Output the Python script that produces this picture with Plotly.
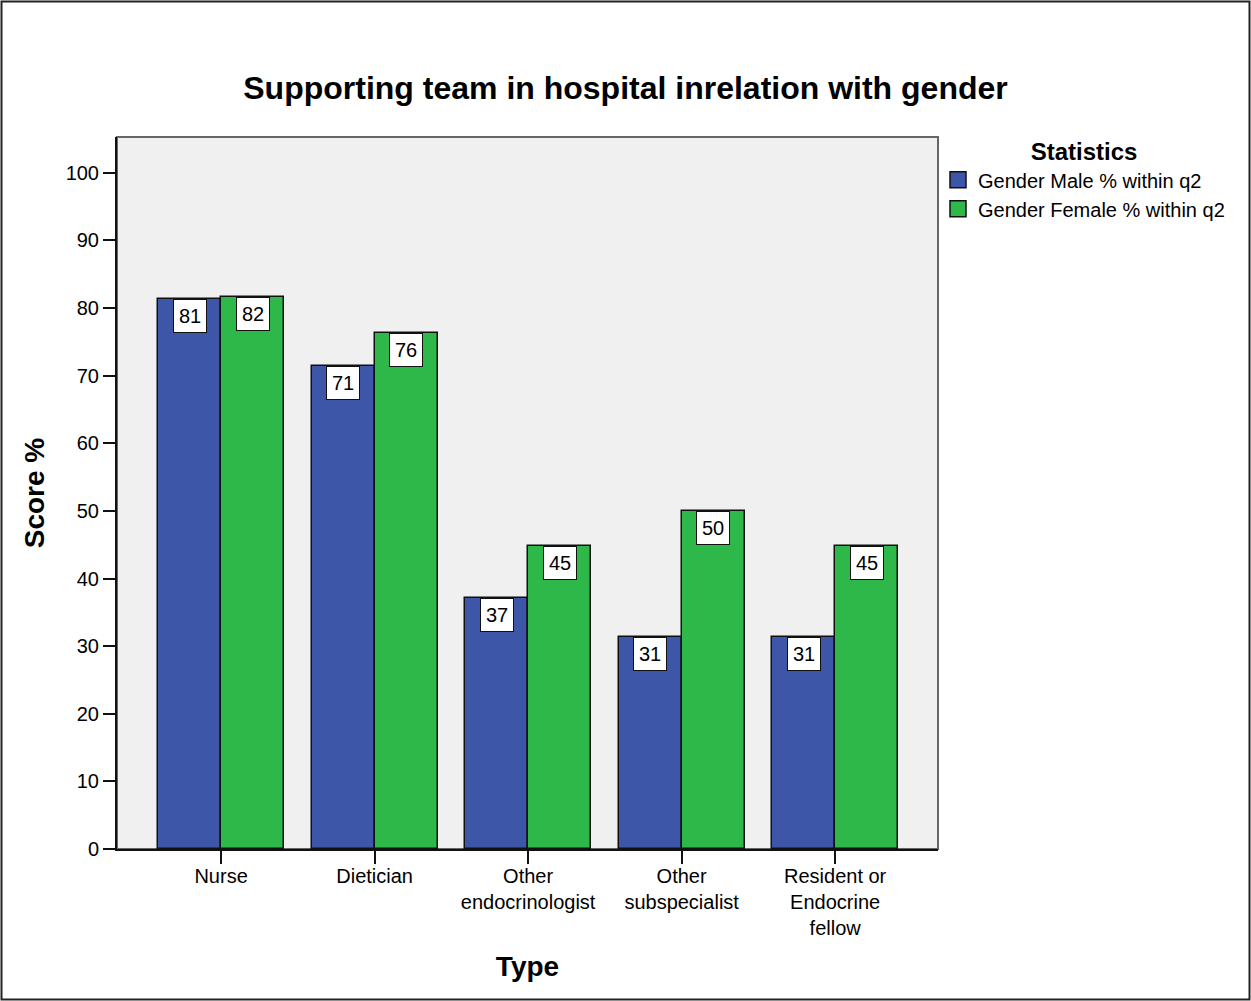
import plotly.graph_objects as go

categories = ["Nurse", "Dietician", "Other<br>endocrinologist", "Other<br>subspecialist", "Resident or<br>Endocrine<br>fellow"]
male_values = [81.4, 71.4, 37.1, 31.3, 31.3]
female_values = [81.6, 76.3, 44.8, 50.0, 44.8]
series_names = ["Gender Male % within q2", "Gender Female % within q2"]
y_ticks = [0, 10, 20, 30, 40, 50, 60, 70, 80, 90, 100]

BLUE = "#3D56A8"
GREEN = "#2EB84A"
FONT = "Liberation Sans, Arial, sans-serif"

x_idx = list(range(len(categories)))
bar_w = 0.41

fig = go.Figure()
for vals, name, col, off in [(male_values, series_names[0], BLUE, -bar_w / 2),
                             (female_values, series_names[1], GREEN, bar_w / 2)]:
    fig.add_trace(go.Bar(
        x=[i + off for i in x_idx], y=vals, name=name, width=bar_w, showlegend=False,
        marker=dict(color=col, line=dict(color="#111111", width=1.5)),
    ))
    # legend entry with a larger square swatch
    fig.add_trace(go.Scatter(
        x=[None], y=[None], mode="markers", name=name,
        marker=dict(symbol="square", size=16, color=col, line=dict(color="#111111", width=1.5)),
    ))
    for i, v in zip(x_idx, vals):
        fig.add_annotation(
            x=i + off, y=v, xref="x", yref="y", text=f"{round(v)}",
            showarrow=False, yanchor="top", xanchor="center",
            bgcolor="white", bordercolor="#111111", borderwidth=1, borderpad=5,
            font=dict(family=FONT, size=20, color="black"),
        )

W, H = 1251, 1001
L, R, T, B = 117, 313, 137, 152
pw, ph = W - L - R, H - T - B

# outer figure border
fig.add_shape(type="rect", xref="paper", yref="paper",
              x0=(1.5 - L) / pw, x1=(W - 1.5 - L) / pw,
              y0=(1.5 - B) / ph, y1=(H - B - 1.5) / ph,
              line=dict(color="#222222", width=2), layer="below")
# plot area border
fig.add_shape(type="rect", xref="paper", yref="paper", x0=0, x1=1, y0=0, y1=1,
              line=dict(color="#666666", width=2), layer="below")

fig.update_layout(
    width=W, height=H,
    margin=dict(l=L, r=R, t=T, b=B, autoexpand=False),
    paper_bgcolor="white", plot_bgcolor="#F0F0F0",
    font=dict(family=FONT, size=20, color="black"),
    title=dict(text="<b>Supporting team in hospital inrelation with gender</b>",
               x=0.5, xanchor="center", xref="container", y=1 - 88 / H, yanchor="middle",
               font=dict(size=32, family=FONT)),
    showlegend=True,
    legend=dict(
        title=dict(text="<b>Statistics</b>", side="top center", font=dict(size=24)),
        x=1.0, xanchor="left", y=1.0 + 8 / ph, yanchor="top",
        font=dict(size=20), bgcolor="rgba(0,0,0,0)", tracegroupgap=0,
    ),
    bargap=0,
)

fig.update_xaxes(
    range=[-0.678, 4.67], tickvals=x_idx, ticktext=categories,
    showgrid=False, zeroline=False, showline=True, linecolor="#111111", linewidth=2,
    ticks="outside", ticklen=13, tickcolor="#111111", tickwidth=2,
    ticklabelstandoff=-5,
    tickfont=dict(size=20),
    title=dict(text="<b>Type</b>", font=dict(size=28), standoff=18),
)
fig.update_yaxes(
    range=[0, 105.3], tickvals=y_ticks, showgrid=False, zeroline=False,
    showline=True, linecolor="#111111", linewidth=2,
    ticks="outside", ticklen=12, tickcolor="#111111", tickwidth=2,
    tickfont=dict(size=20),
    title=dict(text="<b>Score %</b>", font=dict(size=28), standoff=13),
)

fig.write_html("out.html", config={"displayModeBar": False},
               post_script="document.body.style.margin='0px';")
